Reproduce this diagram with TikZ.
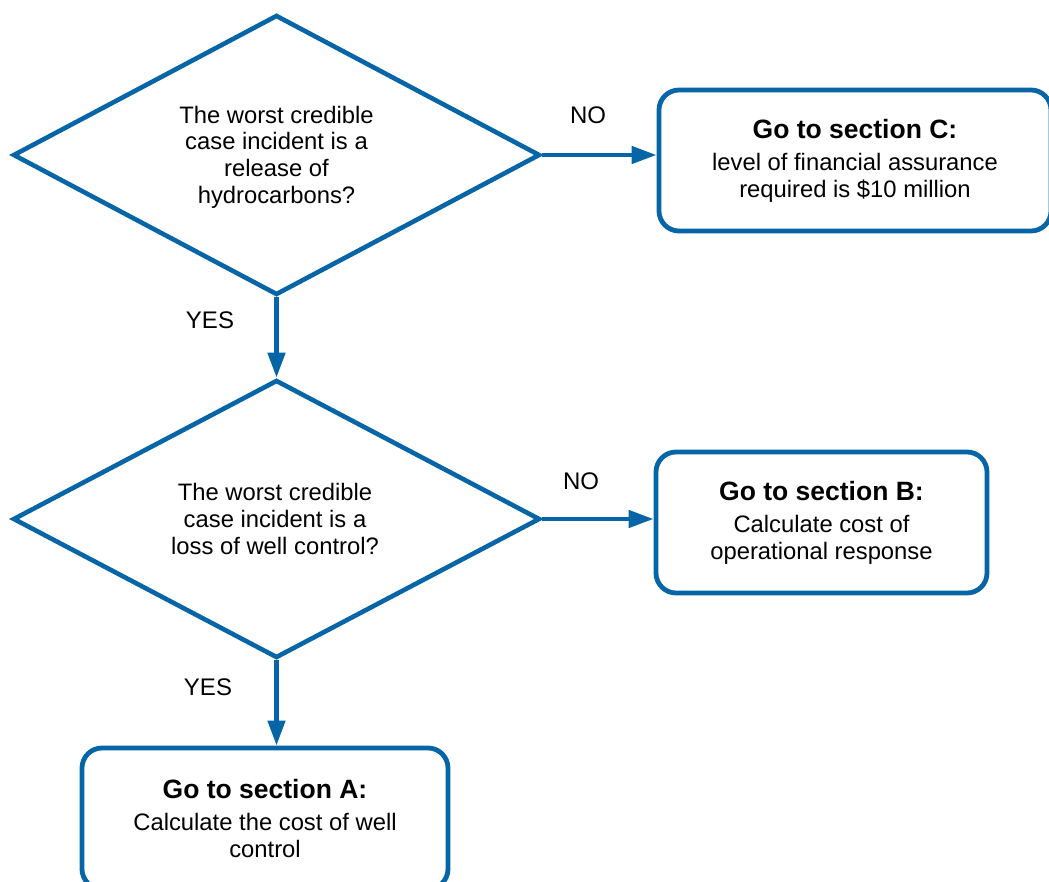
\documentclass[tikz,border=0pt]{standalone}
\usepackage{fontspec}
\setmainfont{Liberation Sans}
\usetikzlibrary{shapes.geometric,arrows.meta}
\definecolor{flowblue}{RGB}{5,101,166}
\begin{document}
\begin{tikzpicture}[x=1pt,y=-1pt,
  decision/.style={diamond, draw=flowblue, line width=4.6pt, inner sep=0pt,
    minimum width=527pt, minimum height=#1},
  outcome/.style={rectangle, rounded corners=20pt, draw=flowblue, line width=4.8pt,
    minimum width=#1, minimum height=141pt, align=center, inner sep=0pt,
    font=\fontsize{23.8}{27}\selectfont},
  txt/.style={align=center, font=\fontsize{23.8}{26.7}\selectfont},
  flow/.style={draw=flowblue, line width=4.6pt, -{Triangle[length=25pt,width=17pt]}},
  lbl/.style={font=\fontsize{24}{28}\selectfont}]
\useasboundingbox (0,0) rectangle (1049,882);

% decisions
\node[decision=280pt] (d1) at (276.5,155) {};
\node[txt] (d1t) at (276.5,157) {The worst credible\\case incident is a\\release of\\hydrocarbons?};
\node[decision=278pt] (d2) at (276.5,519) {};
\node[txt] (d2t) at (275,519) {The worst credible\\case incident is a\\loss of well control?};

% outcomes
\node[outcome=392pt] (c) at (855,160.5) {{\fontsize{26.5}{30}\selectfont\bfseries Go to section C:}\\[5pt]level of financial assurance\\required is \$10 million};
\node[outcome=331pt] (b) at (821.5,522.5) {{\fontsize{26.5}{30}\selectfont\bfseries Go to section B:}\\[5pt]Calculate cost of\\operational response};
\node[outcome=366pt] (a) at (265,818.5) {{\fontsize{26.5}{30}\selectfont\bfseries Go to section A:}\\[5pt]Calculate the cost of well\\control};

% connectors
\draw[flow] (d1.east) -- (d1.east -| c.west);
\draw[flow] (d1.south) -- (d2.north);
\draw[flow] (d2.east) -- (d2.east -| b.west);
\draw[flow] (d2.south) -- (a.north -| d2.south);

% labels
\node[lbl] (no1) at (588,115) {NO};
\node[lbl] (yes1) at (210,320) {YES};
\node[lbl] (no2) at (581,481) {NO};
\node[lbl] (yes2) at (208,687) {YES};
\end{tikzpicture}
\end{document}
